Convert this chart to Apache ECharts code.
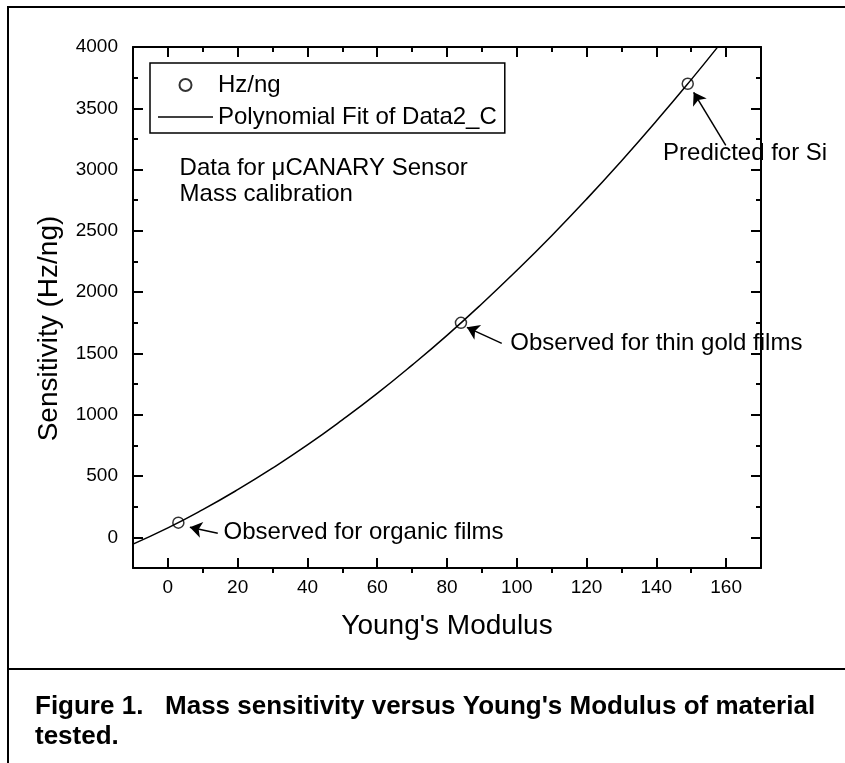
<!DOCTYPE html>
<html>
<head>
<meta charset="utf-8">
<title>Mass sensitivity versus Young's Modulus</title>
<script src="https://cdn.jsdelivr.net/npm/echarts@6/dist/echarts.min.js"></script>
<style>
  html, body { margin: 0; padding: 0; background: #fff; }
  #chart { width: 845px; height: 763px; }
</style>
</head>
<body>
<div id="chart"></div>
<script>
// Axis ranges and tick values
const xRange = [-10, 170];
const yRange = [-250, 4000];
const xMajorTicks = [0, 20, 40, 60, 80, 100, 120, 140, 160];
const xMinorTicks = [10, 30, 50, 70, 90, 110, 130, 150];
const yMajorTicks = [0, 500, 1000, 1500, 2000, 2500, 3000, 3500, 4000];
const yMinorTicks = [250, 750, 1250, 1750, 2250, 2750, 3250, 3750];

// Measured sensitivities (Hz/ng) against Young's modulus
const measuredModulus = [3, 84, 149];
const measuredSensitivity = [120, 1750, 3700];

// Polynomial fit curve
const fitModulus = [-10, 0, 10, 20, 30, 40, 50, 60, 70, 80, 90, 100, 110, 120, 130, 140, 150, 157.5];
const fitSensitivity = [-55, 77, 226, 389, 565, 754, 958, 1174, 1405, 1648, 1906, 2177, 2461, 2759, 3071, 3396, 3734, 3997];

// Callout texts, their anchors and arrows (in axis units)
const noteTexts = ['Observed for organic films', 'Observed for thin gold films', 'Predicted for Si'];
const noteAnchors = [[15.8, 41], [98, 1582], [141.8, 3132]];
const arrowTails = [[14.3, 33], [95.7, 1582], [159.9, 3197]];
const arrowHeads = [[6.3, 82], [85.7, 1713], [150.7, 3630]];
const infoText = 'Data for \u03BCCANARY Sensor\nMass calibration';
const infoAnchor = [3.2, 2904];

const seriesNames = ['Hz/ng', 'Polynomial Fit of Data2_C'];
const xTitle = "Young's Modulus";
const yTitle = 'Sensitivity (Hz/ng)';
const caption = "Figure 1.   Mass sensitivity versus Young's Modulus of material\ntested.";

const FONT = '"Liberation Sans", Arial, sans-serif';
const INK = '#000';

function xAxisDef(position, ticks, opts) {
  return Object.assign({
    type: 'value', position: position, min: xRange[0], max: xRange[1],
    axisLine: { show: false, onZero: false, lineStyle: { color: INK, width: 2 } },
    axisTick: { show: true, inside: true, length: 10, customValues: ticks, lineStyle: { color: INK, width: 2 } },
    axisLabel: { show: false },
    splitLine: { show: false }
  }, opts || {});
}
function yAxisDef(position, ticks, opts) {
  return Object.assign({
    type: 'value', position: position, min: yRange[0], max: yRange[1],
    axisLine: { show: false, onZero: false, lineStyle: { color: INK, width: 2 } },
    axisTick: { show: true, inside: true, length: 10, customValues: ticks, lineStyle: { color: INK, width: 2 } },
    axisLabel: { show: false },
    splitLine: { show: false }
  }, opts || {});
}

const chart = echarts.init(document.getElementById('chart'), null, { renderer: 'canvas' });

const option = {
  animation: false,
  backgroundColor: '#fff',
  textStyle: { fontFamily: FONT, color: INK },
  grid: { left: 133, top: 47, right: 84, bottom: 195, containLabel: false },
  legend: {
    orient: 'vertical',
    left: 150, top: 63,
    padding: [9, 8, 3, 8],
    itemGap: 6,
    itemWidth: 55, itemHeight: 12,
    borderColor: INK, borderWidth: 1.5,
    textStyle: { fontFamily: FONT, fontSize: 24, color: INK, lineHeight: 26 },
    data: [
      { name: seriesNames[0] },
      { name: seriesNames[1], icon: 'path://M0,0 L55,0 L55,1.5 L0,1.5 Z', itemStyle: { color: INK } }
    ]
  },
  xAxis: [
    xAxisDef('bottom', xMajorTicks, {
      axisLine: { show: true, onZero: false, lineStyle: { color: INK, width: 2 } },
      axisLabel: { show: true, customValues: xMajorTicks, fontSize: 19, color: INK, margin: 10, fontFamily: FONT,
        formatter: v => String(v) },
      name: xTitle, nameLocation: 'middle', nameGap: 44,
      nameTextStyle: { fontSize: 28, color: INK, fontFamily: FONT }
    }),
    xAxisDef('bottom', xMinorTicks, {
      axisTick: { show: true, inside: false, length: 5, customValues: xMinorTicks, lineStyle: { color: INK, width: 2 } }
    }),
    xAxisDef('top', xMajorTicks, {
      axisLine: { show: true, onZero: false, lineStyle: { color: INK, width: 2 } }
    }),
    xAxisDef('top', xMinorTicks, {
      axisTick: { show: true, inside: true, length: 5, customValues: xMinorTicks, lineStyle: { color: INK, width: 2 } }
    })
  ],
  yAxis: [
    yAxisDef('left', yMajorTicks, {
      axisLine: { show: true, onZero: false, lineStyle: { color: INK, width: 2 } },
      axisLabel: { show: true, customValues: yMajorTicks, fontSize: 19, color: INK, margin: 15, fontFamily: FONT,
        formatter: v => String(v) },
      name: yTitle, nameLocation: 'middle', nameGap: 70,
      nameTextStyle: { fontSize: 28, color: INK, fontFamily: FONT, padding: [0, 42, 0, 0] }
    }),
    yAxisDef('left', yMinorTicks, {
      axisTick: { show: true, inside: true, length: 5, customValues: yMinorTicks, lineStyle: { color: INK, width: 2 } }
    }),
    yAxisDef('right', yMajorTicks, {
      axisLine: { show: true, onZero: false, lineStyle: { color: INK, width: 2 } }
    }),
    yAxisDef('right', yMinorTicks, {
      axisTick: { show: true, inside: true, length: 5, customValues: yMinorTicks, lineStyle: { color: INK, width: 2 } }
    })
  ],
  series: [
    {
      name: seriesNames[0],
      type: 'scatter',
      xAxisIndex: 0, yAxisIndex: 0,
      symbol: 'circle', symbolSize: 11,
      itemStyle: { color: 'rgba(0,0,0,0)', borderColor: INK, borderWidth: 1.5 },
      data: measuredModulus.map((x, i) => [x, measuredSensitivity[i]]),
      z: 4,
      markPoint: {
        silent: true,
        symbol: 'circle', symbolSize: 1,
        itemStyle: { color: 'rgba(0,0,0,0)' },
        label: {
          show: true, position: 'right', distance: 0,
          color: INK, fontSize: 24, fontFamily: FONT, lineHeight: 26,
          formatter: p => p.name
        },
        data: noteTexts.map((t, i) => ({ name: t, coord: noteAnchors[i] }))
          .concat([{ name: infoText, coord: infoAnchor }])
      }
    },
    {
      name: seriesNames[1],
      type: 'line',
      xAxisIndex: 0, yAxisIndex: 0,
      symbol: 'none', showSymbol: false,
      smooth: true,
      clip: true,
      lineStyle: { color: INK, width: 1.5 },
      itemStyle: { color: INK },
      data: fitModulus.map((x, i) => [x, fitSensitivity[i]]),
      z: 3,
      markLine: {
        silent: true,
        symbol: ['none', 'arrow'],
        symbolSize: 12,
        label: { show: false },
        lineStyle: { color: INK, width: 1.5, type: 'solid' },
        data: arrowTails.map((t, i) => [{ coord: t }, { coord: arrowHeads[i] }])
      }
    }
  ],
  graphic: [
    {
      type: 'polyline', silent: true,
      shape: { points: [[845, 7], [8, 7], [8, 763]] },
      style: { stroke: INK, lineWidth: 2, fill: null }
    },
    {
      type: 'line', silent: true,
      shape: { x1: 8, y1: 669, x2: 845, y2: 669 },
      style: { stroke: INK, lineWidth: 2 }
    },
    {
      type: 'text', silent: true,
      left: 35, top: 692,
      style: {
        text: caption, fill: INK,
        font: 'bold 26px ' + FONT,
        lineHeight: 30
      }
    }
  ]
};

chart.setOption(option);
</script>
</body>
</html>
